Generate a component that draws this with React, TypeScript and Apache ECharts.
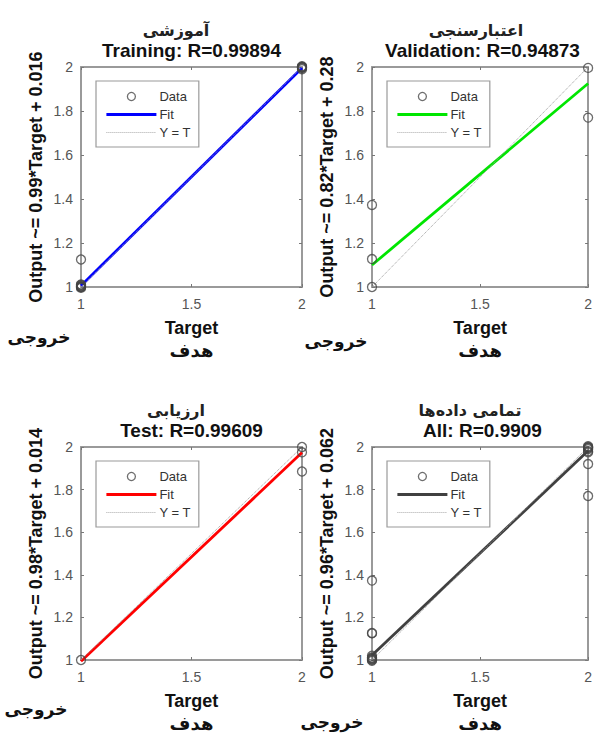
import React, { useEffect, useRef } from 'react';
import * as echarts from 'echarts';

const FONT = "'Liberation Sans', Arial, 'DejaVu Sans', sans-serif";
const FA_FONT = "'DejaVu Sans', 'Liberation Sans', sans-serif";

// ---- data ----
const titlesFa = ['آموزشی', 'اعتبارسنجی', 'ارزیابی', 'تمامی داده‌ها'];
const titlesEn = ['Training: R=0.99894', 'Validation: R=0.94873', 'Test: R=0.99609', 'All: R=0.9909'];
const yAxisNames = [
  'Output ~= 0.99*Target + 0.016',
  'Output ~= 0.82*Target + 0.28',
  'Output ~= 0.98*Target + 0.014',
  'Output ~= 0.96*Target + 0.062',
];
const xAxisName = 'Target\nهدف';
const outputLabel = 'خروجی';
const legendNames = ['Data', 'Fit', 'Y = T'];
const fitColors = ['#0000ff', '#00e600', '#ff0000', '#404040'];
const fitStart = [1.006, 1.1, 0.994, 1.022];
const fitEnd = [1.996, 1.925, 1.974, 1.982];
const identityEnds = [1, 2];

const trainTargets = [1, 1, 1, 1, 1, 1, 1, 1, 2, 2, 2, 2, 2, 2];
const trainOutputs = [1.0, 1.006, 0.996, 1.012, 1.0, 1.003, 1.009, 1.125, 2.0, 1.995, 2.004, 1.99, 2.0, 1.997];
const valTargets = [1, 1, 1, 2, 2];
const valOutputs = [1.0, 1.127, 1.373, 1.996, 1.77];
const testTargets = [1, 2, 2, 2];
const testOutputs = [1.0, 2.0, 1.975, 1.885];
const allTargets = [1, 1, 1, 1, 1, 1, 1, 1, 1, 1, 2, 2, 2, 2, 2, 2, 2, 2, 2];
const allOutputs = [1.0, 1.006, 0.996, 1.012, 1.02, 1.003, 1.009, 1.125, 1.127, 1.373, 2.0, 1.995, 2.004, 1.99, 1.98, 1.975, 1.997, 1.92, 1.77];

const panelTargets = [trainTargets, valTargets, testTargets, allTargets];
const panelOutputs = [trainOutputs, valOutputs, testOutputs, allOutputs];

// ---- layout ----
const GRIDS = [
  { left: 81, top: 67 },
  { left: 372, top: 67 },
  { left: 81, top: 447 },
  { left: 372, top: 447 },
];
const GW = 221;
const GH = 220;
const FA_TITLE_X = [176, 476, 176, 470];
const OUT_POS = [
  [39, 337],
  [336, 341],
  [36, 709],
  [332, 722],
];

export default function App() {
  const ref = useRef<HTMLDivElement>(null);
  useEffect(() => {
    if (!ref.current) return;
    const chart = echarts.init(ref.current, undefined, { renderer: 'svg' });

    const axisLine = { show: true, lineStyle: { color: '#9a9a9a', width: 2 } };
    const axisTick = { show: true, inside: true, length: 3, lineStyle: { color: '#777', width: 1 } };
    const labelStyle = { color: '#555', fontSize: 14, fontFamily: FONT };
    const hiddenSymbol = { color: 'rgba(0,0,0,0)', borderColor: 'rgba(0,0,0,0)', borderWidth: 0, opacity: 0 };

    const xAxis: any[] = [];
    const yAxis: any[] = [];
    const grid: any[] = [];
    const series: any[] = [];
    const legend: any[] = [];
    const graphic: any[] = [];

    GRIDS.forEach((g) => {
      grid.push({ left: g.left, top: g.top, width: GW, height: GH, containLabel: false });
    });
    // main axes
    GRIDS.forEach((g, i) => {
      xAxis.push({
        type: 'value', gridIndex: i, position: 'bottom', min: 1, max: 2, interval: 0.5,
        axisLine, axisTick, splitLine: { show: false },
        axisLabel: { ...labelStyle, margin: 10 },
        name: xAxisName, nameLocation: 'middle', nameGap: 29,
        nameTextStyle: { color: '#111', fontSize: 18, fontWeight: 'bold', fontFamily: FONT, lineHeight: 23 },
      });
      yAxis.push({
        type: 'value', gridIndex: i, position: 'left', min: 1, max: 2, interval: 0.2,
        axisLine, axisTick, splitLine: { show: false },
        axisLabel: { ...labelStyle, margin: 8 },
        name: yAxisNames[i], nameLocation: 'middle', nameRotate: 90, nameGap: 36,
        nameTextStyle: { color: '#111', fontSize: 18, fontWeight: 'bold', fontFamily: FONT },
      });
    });
    // opposite (box) axes
    GRIDS.forEach((g, i) => {
      xAxis.push({
        type: 'value', gridIndex: i, position: 'top', min: 1, max: 2, interval: 0.5,
        axisLine, axisTick, splitLine: { show: false }, axisLabel: { show: false },
      });
      yAxis.push({
        type: 'value', gridIndex: i, position: 'right', min: 1, max: 2, interval: 0.2,
        axisLine, axisTick, splitLine: { show: false }, axisLabel: { show: false },
      });
    });

    GRIDS.forEach((g, i) => {
      series.push({
        name: legendNames[1], type: 'line', xAxisIndex: i, yAxisIndex: i,
        data: [[identityEnds[0], fitStart[i]], [identityEnds[1], fitEnd[i]]],
        symbol: 'none', clip: false, silent: true,
        lineStyle: { color: fitColors[i], width: 2.8 }, itemStyle: { color: fitColors[i] },
        z: 3,
      });
      series.push({
        name: legendNames[2], type: 'line', xAxisIndex: i, yAxisIndex: i,
        data: [[identityEnds[0], identityEnds[0]], [identityEnds[1], identityEnds[1]]],
        symbol: 'none', clip: false, silent: true,
        lineStyle: { color: '#999', width: 1, type: 'dotted' }, itemStyle: { color: '#999' },
        z: 4,
      });
      series.push({
        name: legendNames[0], type: 'scatter', xAxisIndex: i, yAxisIndex: i,
        data: panelTargets[i].map((t, k) => [t, panelOutputs[i][k]]),
        symbol: 'circle', symbolSize: 9, clip: false, silent: true,
        itemStyle: { color: 'rgba(255,255,255,0)', borderColor: '#444', borderWidth: 1.3 },
        z: 5,
      });

      legend.push({
        orient: 'vertical', left: g.left + 15, top: g.top + 14,
        padding: [9, 8, 8, 9], itemGap: 5, itemWidth: 50, itemHeight: 8,
        backgroundColor: '#fff', borderColor: '#9a9a9a', borderWidth: 1.2, borderRadius: 0,
        selectedMode: false, align: 'left',
        textStyle: { color: '#333', fontSize: 13, fontFamily: FONT, padding: [0, 0, 0, -2] },
        data: [
          { name: legendNames[0], icon: 'circle', itemStyle: { color: '#fff', borderColor: '#4a4a4a', borderWidth: 1.3 } },
          { name: legendNames[1], lineStyle: { color: fitColors[i], width: 2.8 }, itemStyle: hiddenSymbol },
          { name: legendNames[2], lineStyle: { color: '#aaa', width: 1, type: 'dotted' }, itemStyle: hiddenSymbol },
        ],
      });

      const cx = g.left + GW / 2;
      graphic.push({
        type: 'text', x: FA_TITLE_X[i], y: g.top - 37, silent: true,
        style: { text: titlesFa[i], fill: '#222', font: `bold 16px ${FA_FONT}`, align: 'center', verticalAlign: 'middle' },
      });
      graphic.push({
        type: 'text', x: cx, y: g.top - 17, silent: true,
        style: { text: titlesEn[i], fill: '#111', font: `bold 19px ${FONT}`, align: 'center', verticalAlign: 'middle' },
      });
      graphic.push({
        type: 'text', x: OUT_POS[i][0], y: OUT_POS[i][1], silent: true,
        style: { text: outputLabel, fill: '#111', font: `bold 17px ${FA_FONT}`, align: 'center', verticalAlign: 'middle' },
      });
    });

    chart.setOption({
      animation: false,
      backgroundColor: '#fff',
      grid, xAxis, yAxis, series, legend, graphic,
    });
    return () => chart.dispose();
  }, []);

  return <div ref={ref} style={{ position: 'fixed', left: 0, top: 0, width: 595, height: 736 }} />;
}
